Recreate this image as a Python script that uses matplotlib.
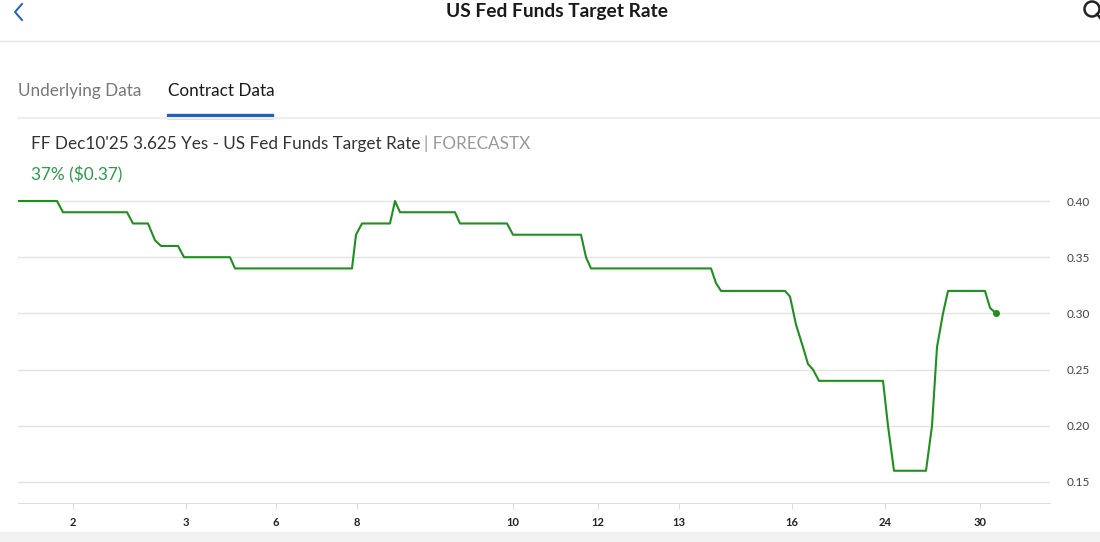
import matplotlib
matplotlib.use('Agg')
import matplotlib.pyplot as plt
from matplotlib.patches import Rectangle, Ellipse

plt.rcParams['font.family'] = ['Lato', 'DejaVu Sans']

# 价格序列（时间轴单位，价格）
t = [0, 39, 45, 109, 115, 130, 137, 143, 160, 166, 212, 217, 334, 338, 344, 372, 377, 382,
     437, 442, 489, 495, 563, 568, 573, 693, 698, 703, 767, 772, 778, 785, 790, 795, 801,
     865, 870, 876, 908, 914, 919, 925, 930, 967, 972, 978]
price = [0.40, 0.40, 0.39, 0.39, 0.38, 0.38, 0.365, 0.36, 0.36, 0.35, 0.35, 0.34, 0.34, 0.37,
         0.38, 0.38, 0.40, 0.39, 0.39, 0.38, 0.38, 0.37, 0.37, 0.35, 0.34, 0.34, 0.327, 0.32,
         0.32, 0.315, 0.29, 0.27, 0.255, 0.25, 0.24, 0.24, 0.20, 0.16, 0.16, 0.20, 0.27, 0.30,
         0.32, 0.32, 0.305, 0.30]

tick_pos = [55, 168, 258, 339, 495, 580, 661, 774, 867, 962]
tick_labels = ['2', '3', '6', '8', '10', '12', '13', '16', '24', '30']
y_ticks = [0.15, 0.20, 0.25, 0.30, 0.35, 0.40]

W, H = 1100, 542
fig = plt.figure(figsize=(W / 100, H / 100), dpi=100)
fig.patch.set_facecolor('white')

def fx(px):
    return px / W

def fy(py):
    return 1 - py / H

def line(xs, ys, **kw):
    fig.add_artist(plt.Line2D([fx(v) for v in xs], [fy(v) for v in ys],
                              transform=fig.transFigure, **kw))

# 顶部标题栏
fig.text(fx(557), fy(12), 'US Fed Funds Target Rate', ha='center', va='center',
         fontsize=13.8, fontweight='bold', color='#1a1a1a')
line([22, 15, 22], [4, 12, 20], color='#1f5fbf', linewidth=1.4)
fig.add_artist(Ellipse((fx(1092), fy(9)), 15 / W, 15 / H, transform=fig.transFigure,
                       fill=False, edgecolor='#222222', linewidth=1.8))
line([1097, 1101], [14, 19], color='#222222', linewidth=1.8)
line([0, 1100], [41, 41], color='#e6e6e6', linewidth=1)

# 标签页
fig.text(fx(18), fy(91), 'Underlying Data', ha='left', va='center', fontsize=12.3,
         color='#777777')
fig.text(fx(168), fy(91), 'Contract Data', ha='left', va='center', fontsize=12.3,
         color='#1a1a1a')
line([18, 1100], [118, 118], color='#eeeeee', linewidth=1.5)
fig.add_artist(Rectangle((fx(167), fy(118)), 106 / W, 3.5 / H, transform=fig.transFigure,
                         color='#1f5fbf'))

# 合约信息
t1 = fig.text(fx(31), fy(144), "FF Dec10'25 3.625 Yes - US Fed Funds Target Rate",
              ha='left', va='center', fontsize=12.3, color='#333333')
fig.canvas.draw()
bb = t1.get_window_extent()
fig.text(bb.x1 / W + 4 / W, fy(144), '| FORECASTX', ha='left', va='center',
         fontsize=12.3, color='#999999')
fig.text(fx(31), fy(175), '37% ($0.37)', ha='left', va='center', fontsize=12.4,
         color='#2a9d4a')

# 图表
ax = fig.add_axes([fx(18), fy(503), 1032 / W, 313 / H])
ax.plot(t, price, color='#1f8f1f', linewidth=1.5, solid_joinstyle='round')
ax.plot(t[-1], price[-1], 'o', color='#1f8f1f', markersize=4)
ax.set_xlim(0, 1032)
ax.set_ylim(0.15 - 21 / 1124, 0.40 + 11 / 1124)
for yv in y_ticks:
    ax.axhline(yv, color='#e3e3e3', linewidth=1, zorder=0)
ax.set_yticks(y_ticks)
ax.set_yticklabels([f'{v:.2f}' for v in y_ticks])
ax.yaxis.tick_right()
ax.tick_params(axis='y', length=0, pad=12, labelsize=8.5, labelcolor='#444444')
ax.set_xticks(tick_pos)
ax.set_xticklabels(tick_labels)
ax.tick_params(axis='x', length=4, color='#dddddd', labelsize=8, labelcolor='#222222',
               pad=6)
for lbl in ax.get_xticklabels():
    lbl.set_fontweight('bold')
for s in ['top', 'left', 'right']:
    ax.spines[s].set_visible(False)
ax.spines['bottom'].set_color('#dddddd')
ax.set_facecolor('none')

# 底部灰条
fig.add_artist(Rectangle((0, 0), 1, 10 / H, transform=fig.transFigure, color='#f2f2f2'))

plt.savefig('out.png', dpi=100)
